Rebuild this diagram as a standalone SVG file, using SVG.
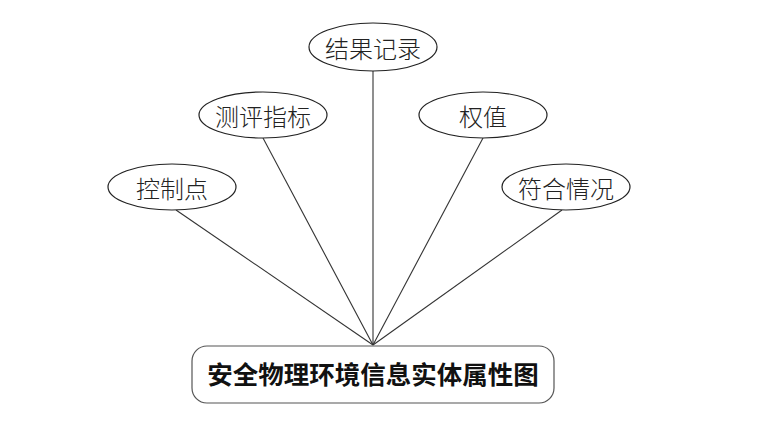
<svg xmlns="http://www.w3.org/2000/svg" width="780" height="440" viewBox="0 0 780 440">
<style>
.attr ellipse{fill:#fff;stroke:#222;stroke-width:1.2}
.attr text{font-family:"Noto Sans CJK SC",sans-serif;font-size:24px;font-weight:300;fill:#222;text-anchor:middle;dominant-baseline:central}
.conn line{stroke:#333;stroke-width:1.1}
#entity rect{fill:#fff;stroke:#555;stroke-width:1.2}
#entity text{font-family:"Liberation Serif","Noto Sans CJK SC",serif;font-size:25.5px;font-weight:bold;fill:#111;text-anchor:middle;dominant-baseline:central}
</style>
<rect width="780" height="440" fill="#fff"/>
<g class="conn" id="connectors">
<line x1="373" y1="71" x2="373" y2="345"/>
<line x1="263" y1="138" x2="373" y2="345"/>
<line x1="483" y1="138" x2="373" y2="345"/>
<line x1="176" y1="210" x2="373" y2="345"/>
<line x1="562" y1="210" x2="373" y2="345"/>
</g>
<g class="attr" id="n-jieguo"><ellipse cx="373" cy="47" rx="64" ry="24"/><text x="373" y="47">结果记录</text></g>
<g class="attr" id="n-ceping"><ellipse cx="263" cy="115" rx="64" ry="23"/><text x="263" y="115">测评指标</text></g>
<g class="attr" id="n-quanzhi"><ellipse cx="483" cy="115" rx="64" ry="23"/><text x="483" y="115">权值</text></g>
<g class="attr" id="n-kongzhi"><ellipse cx="172" cy="187" rx="64" ry="23"/><text x="172" y="187">控制点</text></g>
<g class="attr" id="n-fuhe"><ellipse cx="566" cy="187" rx="64" ry="23"/><text x="566" y="187">符合情况</text></g>
<g id="entity"><rect x="192" y="346" width="362" height="57" rx="15"/><text x="373" y="375">安全物理环境信息实体属性图</text></g>
</svg>
